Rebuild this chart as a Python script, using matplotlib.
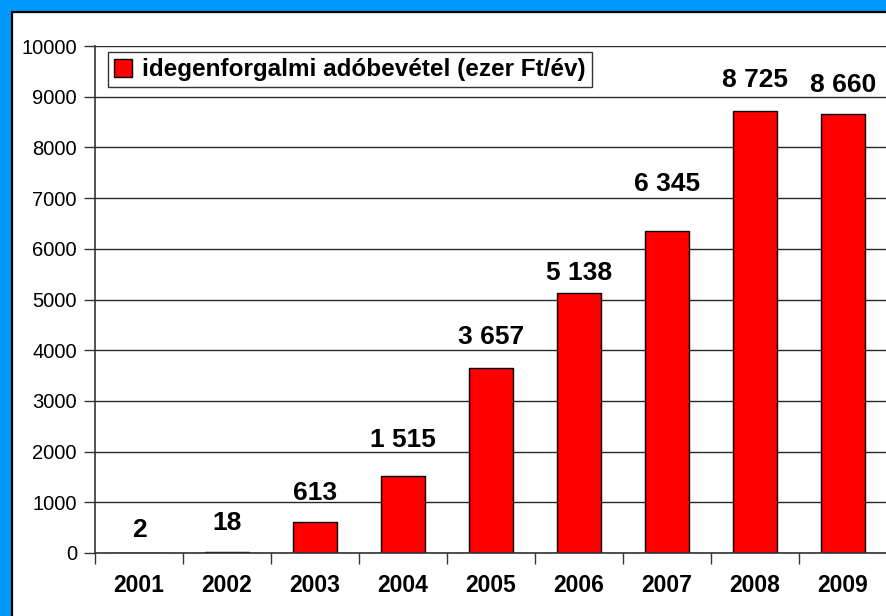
import matplotlib
matplotlib.use("Agg")
import matplotlib.pyplot as plt
from matplotlib.patches import Rectangle

years = ["2001", "2002", "2003", "2004", "2005", "2006", "2007", "2008", "2009"]
values = [2, 18, 613, 1515, 3657, 5138, 6345, 8725, 8660]
value_labels = ["2", "18", "613", "1 515", "3 657", "5 138", "6 345", "8 725", "8 660"]
label_gap_px = [16, 22, 22, 29, 24, 13, 40, 24, 22]
series_name = "idegenforgalmi adóbevétel (ezer Ft/év)"
yticks = list(range(0, 10001, 1000))

plt.rcParams['font.family'] = ['Liberation Sans', 'DejaVu Sans']

W, H = 886, 616
fig = plt.figure(figsize=(W / 100, H / 100), dpi=100)
fig.patch.set_facecolor('#0099FF')
# white panel with black border
fig.patches.append(Rectangle((11.5 / W, -0.01), 1.02, (H - 11.5) / H + 0.01,
                             transform=fig.transFigure, facecolor='white',
                             edgecolor='black', linewidth=1.6, zorder=-5))

ax = fig.add_axes([95 / W, (H - 553) / H, 792 / W, 507 / H])
ax.set_zorder(5)
ax.set_facecolor('none')
x = list(range(len(years)))
bars = ax.bar(x, values, width=0.49, color='#FF0000', edgecolor='black',
              linewidth=1.0, zorder=3, label=series_name)

ax.set_xlim(-0.5, len(years) - 0.5)
ax.set_ylim(0, 10000)
ax.set_yticks(yticks)
ax.set_yticklabels([str(v) for v in yticks], fontsize=14.5)
ax.set_xticks(x)
ax.set_xticklabels(years, fontsize=16.5, fontweight='bold')
ax.set_xticks([i - 0.5 for i in range(len(years) + 1)], minor=True)
ax.tick_params(axis='x', which='major', length=0, pad=15)
ax.tick_params(axis='x', which='minor', length=8, width=1, color='#333333', direction='out')
ax.tick_params(axis='y', length=8, width=1, color='#333333', direction='out', pad=5)

ax.grid(axis='y', color='#2a2a2a', linewidth=1.0, zorder=0)
for s in ['top', 'right']:
    ax.spines[s].set_visible(False)
for s in ['left', 'bottom']:
    ax.spines[s].set_color('#333333')
    ax.spines[s].set_linewidth(1.2)
    ax.spines[s].set_zorder(4)

for xi, v, lab, gap in zip(x, values, value_labels, label_gap_px):
    ax.annotate(lab, xy=(xi, v), xytext=(0, gap * 0.72), textcoords='offset points',
                ha='center', va='baseline', fontsize=19, fontweight='bold', zorder=5)

leg = ax.legend(loc='upper left', bbox_to_anchor=(0.0164, 0.988),
                prop={'weight': 'bold', 'size': 17.5}, frameon=True, fancybox=False,
                borderpad=0.25, handlelength=0.75, handleheight=0.75, handletextpad=0.4,
                borderaxespad=0)
leg.get_frame().set_edgecolor('black')
leg.get_frame().set_linewidth(1.0)
leg.set_zorder(6)

fig.savefig('out.png', dpi=100, facecolor=fig.get_facecolor())
